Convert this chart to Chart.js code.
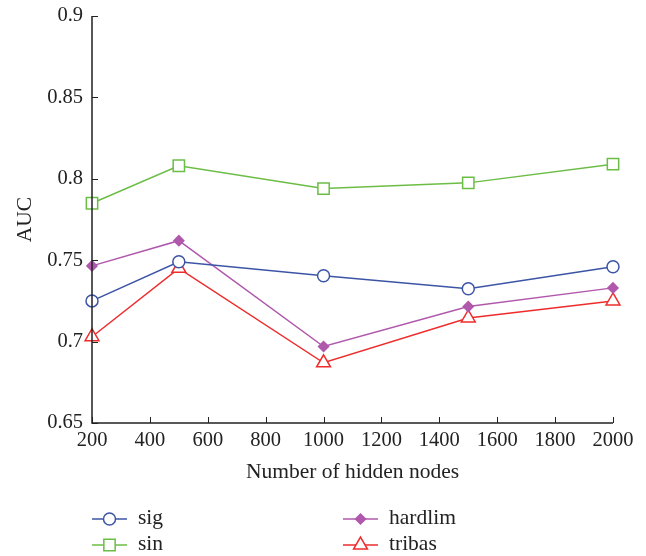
<!DOCTYPE html>
<html><head><meta charset="utf-8">
<script src="https://cdn.jsdelivr.net/npm/chart.js@4/dist/chart.umd.min.js"></script>
<style>html,body{margin:0;padding:0;background:#fff}#wrap{width:646px;height:556px}</style>
</head><body><div id="wrap"><canvas id="c" width="646" height="556"></canvas></div>
<script>
const nodes = [200, 500, 1000, 1500, 2000];
const sig = [0.725, 0.749, 0.7405, 0.7325, 0.746];
const sin = [0.785, 0.808, 0.794, 0.7975, 0.809];
const hardlim = [0.7465, 0.762, 0.697, 0.7215, 0.733];
const tribas = [0.703, 0.745, 0.687, 0.7145, 0.725];
const xTicks = [200,400,600,800,1000,1200,1400,1600,1800,2000];
const yTicks = [0.65,0.7,0.75,0.8,0.85,0.9];
const seriesNames = ['sig','sin','hardlim','tribas'];

const FONT = '"Liberation Serif", "DejaVu Serif", serif';
const colors = {sig:'#3c54a5', sin:'#6cbd45', hardlim:'#b058ac', tribas:'#ee2c2c'};
function pts(arr){ return nodes.map((x,i)=>({x:x,y:arr[i]})); }
const styles = {
  sig:{pointStyle:'circle', radius:6, fill:'#ffffff'},
  sin:{pointStyle:'rect', radius:8, fill:'#ffffff'},
  hardlim:{pointStyle:'rectRot', radius:5, fill:'#b058ac'},
  tribas:{pointStyle:'triangle', radius:8, fill:'#ffffff'}
};
const dataMap = {sig, sin, hardlim, tribas};
const datasets = seriesNames.map(n=>({
  label:n, data:pts(dataMap[n]), borderColor:colors[n], backgroundColor:styles[n].fill,
  pointStyle:styles[n].pointStyle, pointRadius:styles[n].radius, pointBorderColor:colors[n],
  pointBackgroundColor:styles[n].fill, pointBorderWidth:1.5, borderWidth:1.5, tension:0, clip:false
}));

const decor = {
  id:'decor',
  afterDraw(chart){
    const ctx = chart.ctx, xs = chart.scales.x, ys = chart.scales.y, a = chart.chartArea;
    ctx.save();
    ctx.strokeStyle = '#222'; ctx.lineWidth = 1.5;
    ctx.beginPath();
    ctx.moveTo(a.left, a.top); ctx.lineTo(a.left, a.bottom); ctx.lineTo(a.right, a.bottom);
    ctx.stroke();
    ctx.lineWidth = 1;
    ctx.beginPath();
    yTicks.forEach(v=>{ const y = Math.round(ys.getPixelForValue(v))+0.5; ctx.moveTo(a.left, y); ctx.lineTo(a.left+6, y); });
    xTicks.forEach(v=>{ const x = Math.round(xs.getPixelForValue(v))+0.5; ctx.moveTo(x, a.bottom); ctx.lineTo(x, a.bottom-6); });
    ctx.stroke();
    ctx.fillStyle = '#222';
    ctx.font = '21.5px ' + FONT;
    ctx.textAlign = 'center'; ctx.textBaseline = 'middle';
    ctx.fillText('Number of hidden nodes', (a.left+a.right)/2, 472);
    ctx.save();
    ctx.translate(25, (a.top+a.bottom)/2);
    ctx.rotate(-Math.PI/2);
    ctx.fillText('AUC', 0, 0);
    ctx.restore();
    // legend
    const pos = [[92,519],[92,545],[343,519],[343,545]];
    chart.data.datasets.forEach((ds,i)=>{
      const [lx,ly] = pos[i];
      ctx.strokeStyle = ds.borderColor; ctx.lineWidth = 1.5;
      ctx.beginPath(); ctx.moveTo(lx, ly); ctx.lineTo(lx+35, ly); ctx.stroke();
      ctx.save();
      ctx.fillStyle = ds.pointBackgroundColor; ctx.strokeStyle = ds.borderColor; ctx.lineWidth=1.5;
      Chart.helpers.drawPoint(ctx, {pointStyle: ds.pointStyle, radius: ds.pointRadius, borderWidth:1.5, rotation:0}, lx+17.5, ly);
      ctx.restore();
      ctx.fillStyle = '#222'; ctx.textAlign = 'left'; ctx.textBaseline='middle';
      ctx.font = '21.5px ' + FONT;
      ctx.fillText(ds.label, lx+46, ly-1);
    });
    ctx.restore();
  }
};

new Chart(document.getElementById('c'), {
  type:'line',
  data:{datasets},
  plugins:[decor],
  options:{
    responsive:false, animation:false, devicePixelRatio:1,
    layout:{padding:{top:16, right:33, left:0, bottom:0}},
    plugins:{legend:{display:false}, tooltip:{enabled:false}},
    scales:{
      x:{type:'linear', min:200, max:2000,
        afterBuildTicks(s){ s.ticks = xTicks.map(v=>({value:v})); },
        afterFit(s){ s.height = 133; s.paddingLeft = 0; s.paddingRight = 0; },
        grid:{display:false, drawTicks:false}, border:{display:false},
        ticks:{padding:5, color:'#222', font:{family:FONT, size:20.5}, maxRotation:0, autoSkip:false,
          callback:v=>String(v)}
      },
      y:{type:'linear', min:0.65, max:0.9,
        afterBuildTicks(s){ s.ticks = yTicks.map(v=>({value:v})); },
        afterFit(s){ s.width = 92; s.paddingTop = 0; s.paddingBottom = 0; },
        grid:{display:false, drawTicks:false}, border:{display:false},
        ticks:{padding:9, color:'#222', font:{family:FONT, size:20.5},
          callback:v=>String(Number(v.toFixed(2)))}
      }
    }
  }
});
</script></body></html>
